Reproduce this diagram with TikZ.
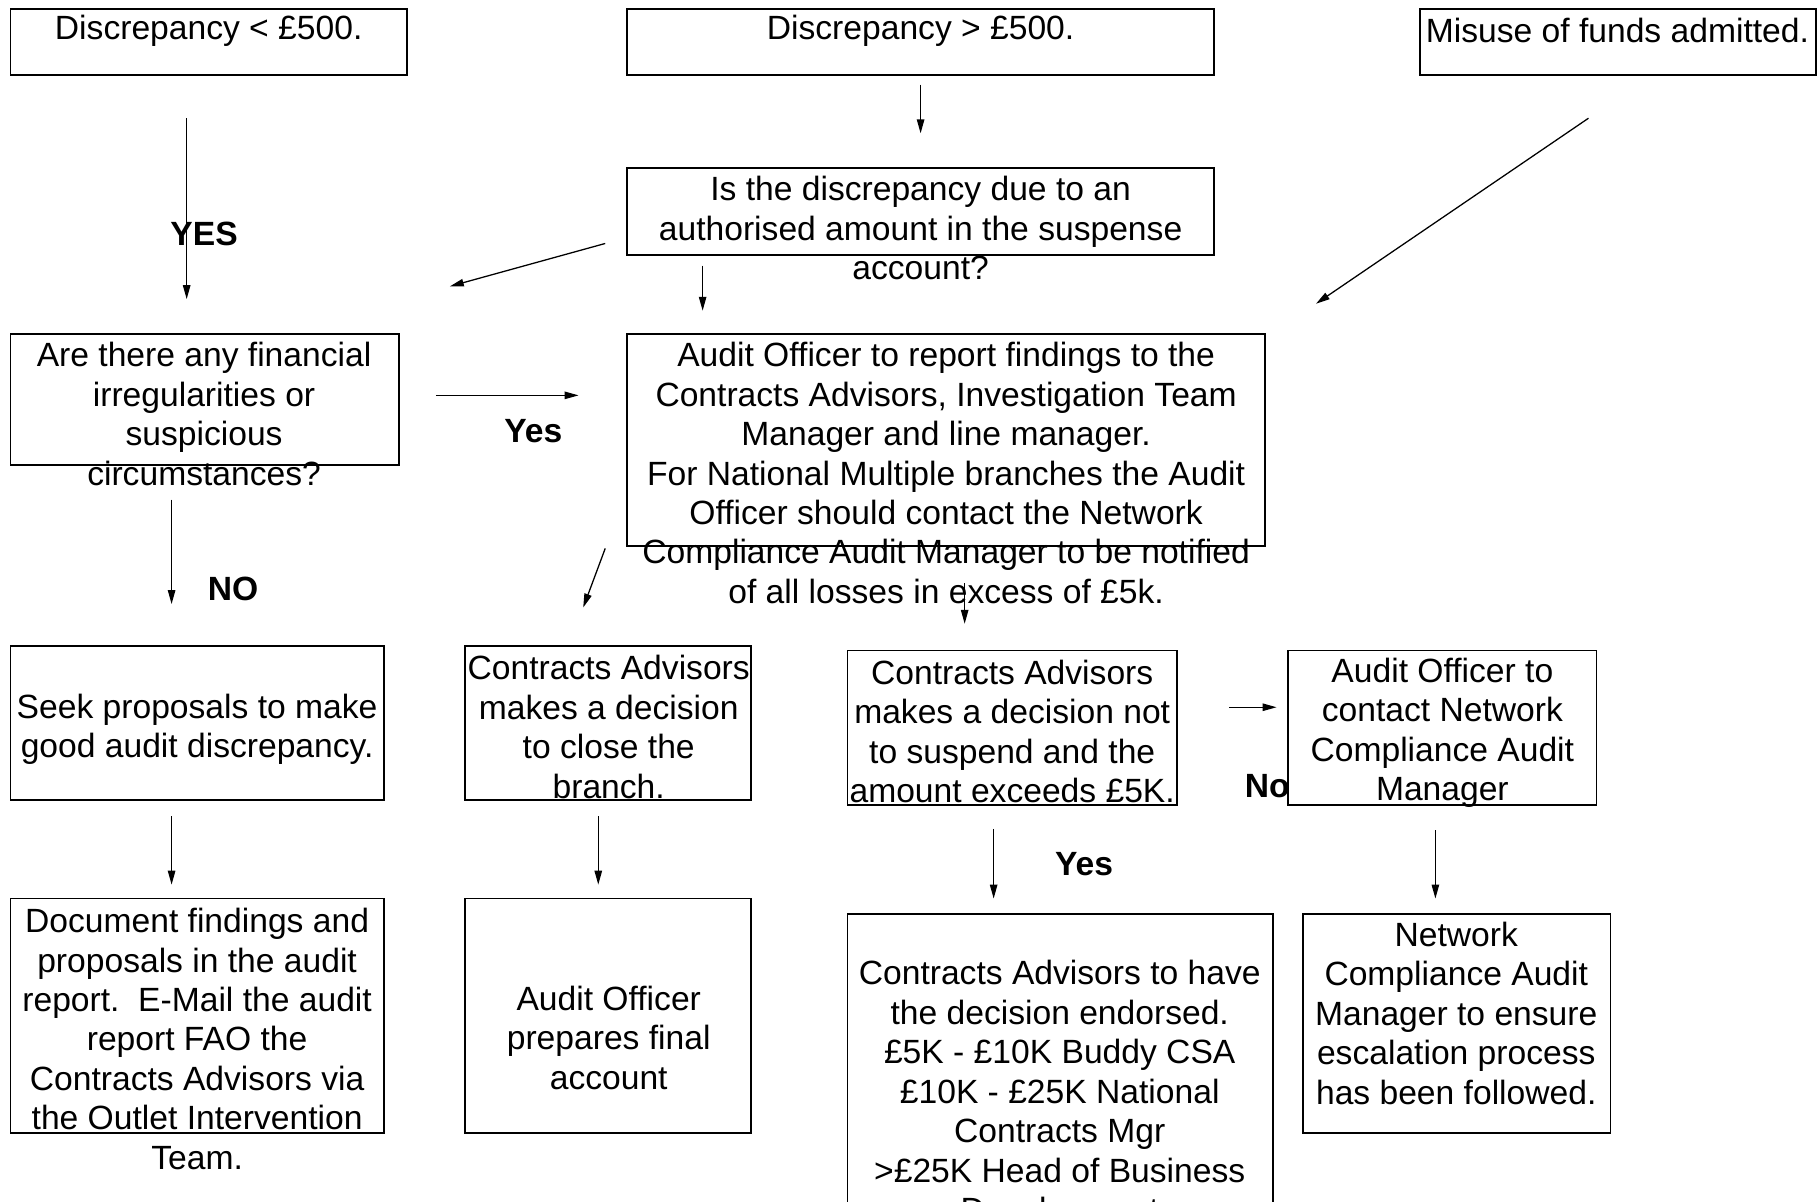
\documentclass[tikz,border=0pt]{standalone}
\usepackage{fontspec}
\setmainfont{Liberation Sans}
\usetikzlibrary{arrows.meta,fit}
\newcommand{\fsz}{\fontsize{14.5pt}{17pt}\selectfont}
\begin{document}
\begin{tikzpicture}[x=0.5pt,y=-0.5pt,
  box/.style={draw, line width=0.75pt, fill=white, inner sep=0pt},
  txt/.style={font=\fsz, align=center, inner sep=0pt},
  lbl/.style={font=\fsz\bfseries, inner sep=0pt},
  arr/.style={-{Triangle[length=6pt,width=3.2pt]}, line width=0.55pt}]
\clip (0,0) rectangle (1568,1036);
\fill[white] (0,0) rectangle (1568,1036);
% labels drawn before boxes
\node[lbl] (lyes1) at (176,202) {YES};
\node[lbl] (lyes2) at (460,372) {Yes};
\node[lbl] (lno1) at (201,508) {NO};
\node[lbl] (lyes3) at (935,745) {Yes};
\node[lbl] (lno2) at (1093,678) {No};
% boxes
\node[box, fit={(9,8) (351,65)}] (b1) {};
\node[box, fit={(541,8) (1047,65)}] (b2) {};
\node[box, fit={(1225,8) (1566,65)}] (b3) {};
\node[box, fit={(541,145) (1047,220)}] (b4) {};
\node[box, fit={(9,288) (344,401)}] (b5) {};
\node[box, fit={(541,288) (1091,471)}] (b6) {};
\node[box, fit={(9,557) (331,690)}] (b7) {};
\node[box, fit={(401,557) (648,690)}] (b8) {};
\node[box, fit={(731,561) (1015,694)}] (b9) {};
\node[box, fit={(1111,561) (1377,694)}] (b10) {};
\node[box, fit={(9,775) (331,977)}] (b11) {};
\node[box, fit={(401,775) (648,977)}] (b12) {};
\node[box, fit={(731,788) (1098,1060)}] (b13) {};
\node[box, fit={(1124,788) (1389,977)}] (b14) {};
% texts
\node[txt] (t1) at (180,27) {Discrepancy < £500.};
\node[txt] (t2) at (794,27) {Discrepancy > £500.};
\node[txt] (t3) at (1395,26) {Misuse of funds admitted.};
\node[txt] (t4) at (794,197) {Is the discrepancy due to an\\authorised amount in the suspense\\account?};
\node[txt] (t5) at (176,357) {Are there any financial\\irregularities or\\suspicious\\circumstances?};
\node[txt] (t6) at (816,408) {Audit Officer to report findings to the\\Contracts Advisors, Investigation Team\\Manager and line manager.\\For National Multiple branches the Audit\\Officer should contact the Network\\Compliance Audit Manager to be notified\\of all losses in excess of £5k.};
\node[txt] (t7) at (170,629) {Seek proposals to make\\good audit discrepancy.};
\node[txt] (t8) at (525,627) {Contracts Advisors\\makes a decision\\to close the\\branch.};
\node[txt] (t9) at (873,631) {Contracts Advisors\\makes a decision not\\to suspend and the\\amount exceeds £5K.};
\node[txt] (t10) at (1244,632) {Audit Officer to\\contact Network\\Compliance Audit\\Manager};
\node[txt] (t11) at (170,896) {Document findings and\\proposals in the audit\\report.\ \ E-Mail the audit\\report FAO the\\Contracts Advisors via\\the Outlet Intervention\\Team.};
\node[txt] (t12) at (525,895) {Audit Officer\\prepares final\\account};
\node[txt] (t13) at (914,944) {Contracts Advisors to have\\the decision endorsed.\\£5K - £10K Buddy CSA\\£10K - £25K National\\Contracts Mgr\\>£25K Head of Business\\Development};
\node[txt] (t14) at (1256,874) {Network\\Compliance Audit\\Manager to ensure\\escalation process\\has been followed.};
% connector end points
\coordinate (a1s) at (161,102); \coordinate (a1e) at (161,258);
\coordinate (a2s) at (794,73);  \coordinate (a2e) at (794,115);
\coordinate (a3s) at (1370,102); \coordinate (a3e) at (1135,262);
\coordinate (a4s) at (522,210); \coordinate (a4e) at (388,247);
\coordinate (a5s) at (606,229); \coordinate (a5e) at (606,268);
\coordinate (a6s) at (376,341); \coordinate (a6e) at (499,341);
\coordinate (a7s) at (148,431); \coordinate (a7e) at (148,521);
\coordinate (a8s) at (522,473); \coordinate (a8e) at (503,524);
\coordinate (a9s) at (832,503); \coordinate (a9e) at (832,538);
\coordinate (a10s) at (1060,610); \coordinate (a10e) at (1101,610);
\coordinate (a11s) at (148,704); \coordinate (a11e) at (148,763);
\coordinate (a12s) at (516,704); \coordinate (a12e) at (516,763);
\coordinate (a13s) at (857,715); \coordinate (a13e) at (857,775);
\coordinate (a14s) at (1238,716); \coordinate (a14e) at (1238,775);
\foreach \i in {1,...,14} {\draw[arr] (a\i s) -- (a\i e);}
\end{tikzpicture}
\end{document}
